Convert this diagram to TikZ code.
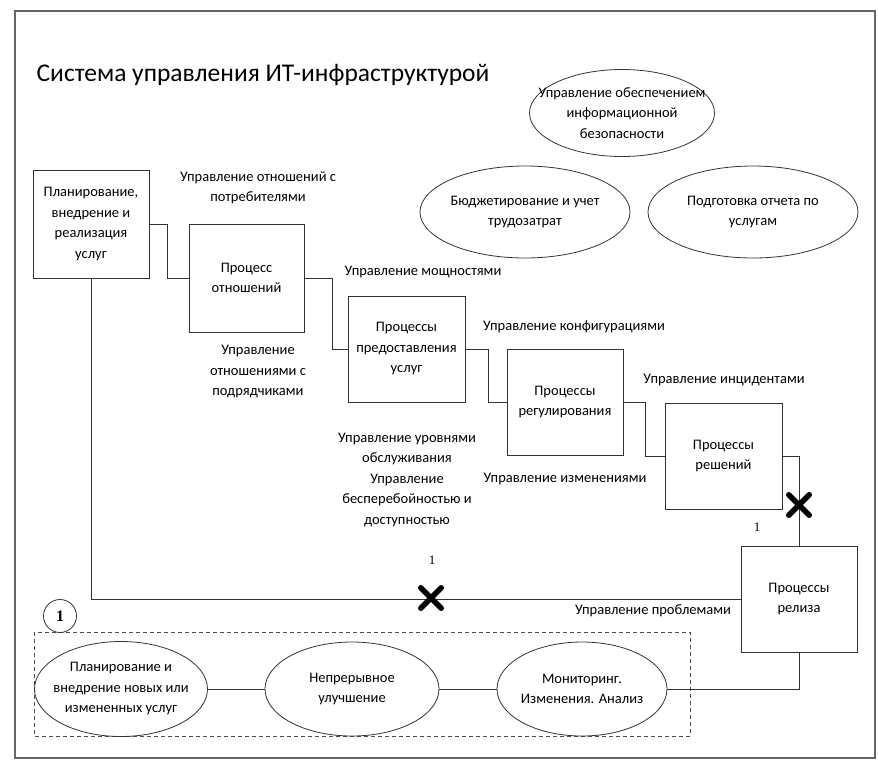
\documentclass[tikz,border=0pt]{standalone}
\usepackage{fontspec}
\setmainfont{Carlito}
\newfontfamily\numfont{Liberation Serif}
\usetikzlibrary{shapes.geometric,shapes.misc}
\tikzset{
  procbox/.style={draw=black!80, line width=0.8pt, align=center, inner sep=2pt},
  oval/.style={ellipse, draw=black!80, line width=0.8pt, inner sep=0pt},
  lbl/.style={align=center, inner sep=1pt},
  wire/.style={draw=black!80, line width=0.8pt},
  stop/.style={cross out, draw=black, line width=5.5pt, minimum size=15pt, inner sep=0pt, line cap=round},
}
\begin{document}
\begin{tikzpicture}[x=1pt, y=-1pt, font=\fontsize{14.5}{20.5}\selectfont]
\useasboundingbox (0,0) rectangle (878,764);
\draw [black!60, line width=1.3pt] (15,11) rectangle (875,758);
\node (title) at (263,75) [inner sep=0pt, font=\fontsize{25.5}{28}\selectfont] {Система управления ИТ-инфраструктурой};
% ellipses at the top
\node (sec) at (622,113) [oval, minimum width=185pt, minimum height=87pt,
  label={[lbl]center:Управление обеспечением\\информационной\\безопасности}] {};
\node (bud) at (525,212) [oval, minimum width=210pt, minimum height=92pt,
  label={[lbl]center:Бюджетирование и учет\\трудозатрат}] {};
\node (rep) at (753,212) [oval, minimum width=210pt, minimum height=92pt,
  label={[lbl]center:Подготовка отчета по\\услугам}] {};
% process boxes
\node (plan) at (91,224) [procbox, minimum width=116pt, minimum height=108pt] {Планирование,\\внедрение и\\реализация\\услуг};
\node (rel) at (246.5,278) [procbox, minimum width=115pt, minimum height=108pt] {Процесс\\отношений};
\node (prov) at (406.5,349) [procbox, minimum width=117pt, minimum height=106pt] {Процессы\\предоставления\\услуг};
\node (reg) at (565,402) [procbox, minimum width=116pt, minimum height=106pt] {Процессы\\регулирования};
\node (sol) at (723.5,456) [procbox, minimum width=117pt, minimum height=106pt] {Процессы\\решений};
\node (rls) at (799,599) [procbox, minimum width=116pt, minimum height=106pt] {Процессы\\релиза};
% labels
\node (lcust) at (258,188) [lbl] {Управление отношений с\\потребителями};
\node (lcap) at (423,272) [lbl] {Управление мощностями};
\node (lsup) at (258,372) [lbl] {Управление\\отношениями с\\подрядчиками};
\node (lconf) at (574,327) [lbl] {Управление конфигурациями};
\node (linc) at (724,380) [lbl] {Управление инцидентами};
\node (lchg) at (565,479) [lbl] {Управление изменениями};
\node (lsla) at (407,480) [lbl] {Управление уровнями\\обслуживания\\Управление\\бесперебойностью и\\доступностью};
\node (lprob) at (653,611) [lbl] {Управление проблемами};
\node (one1) at (432,560) [lbl, font=\numfont\fontsize{13}{15}\selectfont] {1};
\node (one2) at (757,527) [lbl, font=\numfont\fontsize{13}{15}\selectfont] {1};
% connectors
\draw [wire] (plan.east) -- (167,224) |- (rel.west);
\draw [wire] (rel.east) -- (332,278) |- (prov.west);
\draw [wire] (prov.east) -- (488,349) |- (reg.west);
\draw [wire] (reg.east) -- (645,402) |- (sol.west);
\draw [wire] (sol.east) -| (rls.north);
\draw [wire] (plan.south) |- (rls.west);
\node (cut1) at (431,598) [stop] {};
\node (cut2) at (799,505) [stop] {};
% improvement cycle
\draw [black!70, line width=0.8pt, dash pattern=on 4pt off 3pt] (34,632) rectangle (690,736);
\node (cyc) at (60,616) [circle, draw=black!80, line width=0.8pt, minimum size=33pt, inner sep=0pt, font=\numfont\bfseries\fontsize{16}{18}\selectfont] {1};
\node (imp1) at (121,689) [oval, minimum width=173pt, minimum height=95pt,
  label={[lbl]center:Планирование и\\внедрение новых или\\измененных услуг}] {};
\node (imp2) at (352,689) [oval, minimum width=174pt, minimum height=94pt,
  label={[lbl]center:Непрерывное\\улучшение}] {};
\node (imp3) at (582,689) [oval, minimum width=170pt, minimum height=94pt,
  label={[lbl]center:Мониторинг.\\Изменения. Анализ}] {};
\draw [wire] (imp1) -- (imp2);
\draw [wire] (imp2) -- (imp3);
\draw [wire] (imp3.east) -| (rls.south);
\end{tikzpicture}
\end{document}
